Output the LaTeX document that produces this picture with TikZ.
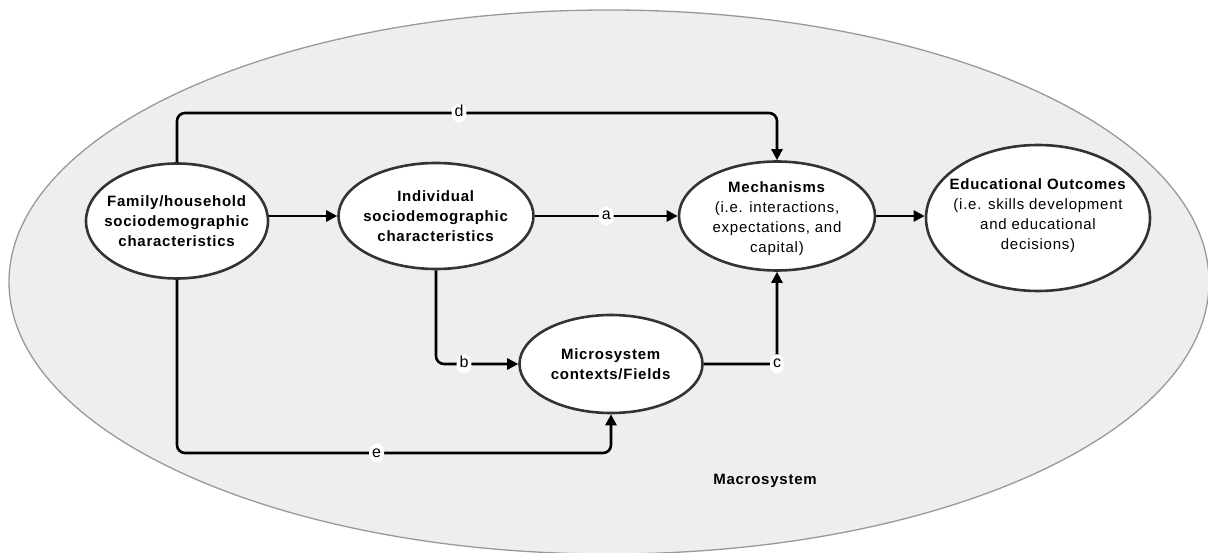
\documentclass[tikz,border=0pt]{standalone}
\usepackage{fontspec}
\setmainfont{Liberation Sans}[LetterSpace=5]
\usetikzlibrary{shapes.geometric,arrows.meta}
\definecolor{macrofill}{HTML}{EEEEEE}
\definecolor{macroline}{HTML}{999999}
\definecolor{nodeline}{HTML}{333333}
\tikzset{
  blob/.style={ellipse, draw=nodeline, line width=2.6pt, fill=white, inner sep=0pt},
  blobtext/.style={align=center, font=\fontsize{15}{20}\selectfont, inner sep=0pt},
  arr/.style={line width=2.6pt, draw=black, -{Triangle[length=11pt,width=11pt]}, rounded corners=8pt},
  lbl/.style={fill=white, inner xsep=3pt, inner ysep=2.5pt, font=\fontsize{16}{16}\selectfont, text height=11pt, text depth=3pt}
}
\begin{document}
\begin{tikzpicture}[x=1pt,y=-1pt]
\useasboundingbox (0,0) rectangle (1208,553);
\path[fill=macrofill, draw=macroline, line width=1.3pt] (609,282) ellipse [x radius=600, y radius=272];

\node[blob, minimum width=182pt, minimum height=115pt,
  label={[blobtext]center:{\textbf{Family/household}\\\textbf{sociodemographic}\\\textbf{characteristics}}}] (fam) at (177,221) {};
\node[blob, minimum width=195pt, minimum height=106pt,
  label={[blobtext]center:{\textbf{Individual}\\\textbf{sociodemographic}\\\textbf{characteristics}}}] (ind) at (436,216) {};
\node[blob, minimum width=196pt, minimum height=109pt,
  label={[blobtext, yshift=-3pt]center:{\textbf{Mechanisms}\\(i.e. interactions,\\expectations, and\\capital)}}] (mech) at (777,216) {};
\node[blob, minimum width=224pt, minimum height=146pt,
  label={[blobtext, yshift=2pt]center:{\textbf{Educational Outcomes}\\(i.e. skills development\\and educational\\decisions)}}] (edu) at (1038,218) {};
\node[blob, minimum width=183pt, minimum height=98pt,
  label={[blobtext]center:{\textbf{Microsystem}\\\textbf{contexts/Fields}}}] (micro) at (611,364) {};

\node[font=\fontsize{15}{15}\selectfont\bfseries] (macro) at (765,481) {Macrosystem};

\coordinate (dtop) at (777,113);
\coordinate (ebot) at (611,453);

\draw[arr] (fam.east |- ind.center) -- (ind.west);
\draw[arr] (ind.east) -- node[lbl]{a} (mech.west);
\draw[arr] (mech.east) -- (edu.west |- mech.east);
\draw[arr] (fam.north) |- node[lbl, pos=0.735]{d} (dtop) -- (mech.north);
\draw[arr] (ind.south) |- node[lbl, pos=0.67]{b} (micro.west);
\draw[arr] (micro.east) -| node[lbl, pos=0.5]{c} (mech.south);
\draw[arr] (fam.south) |- node[lbl, pos=0.73]{e} (ebot) -- (micro.south);
\end{tikzpicture}
\end{document}
